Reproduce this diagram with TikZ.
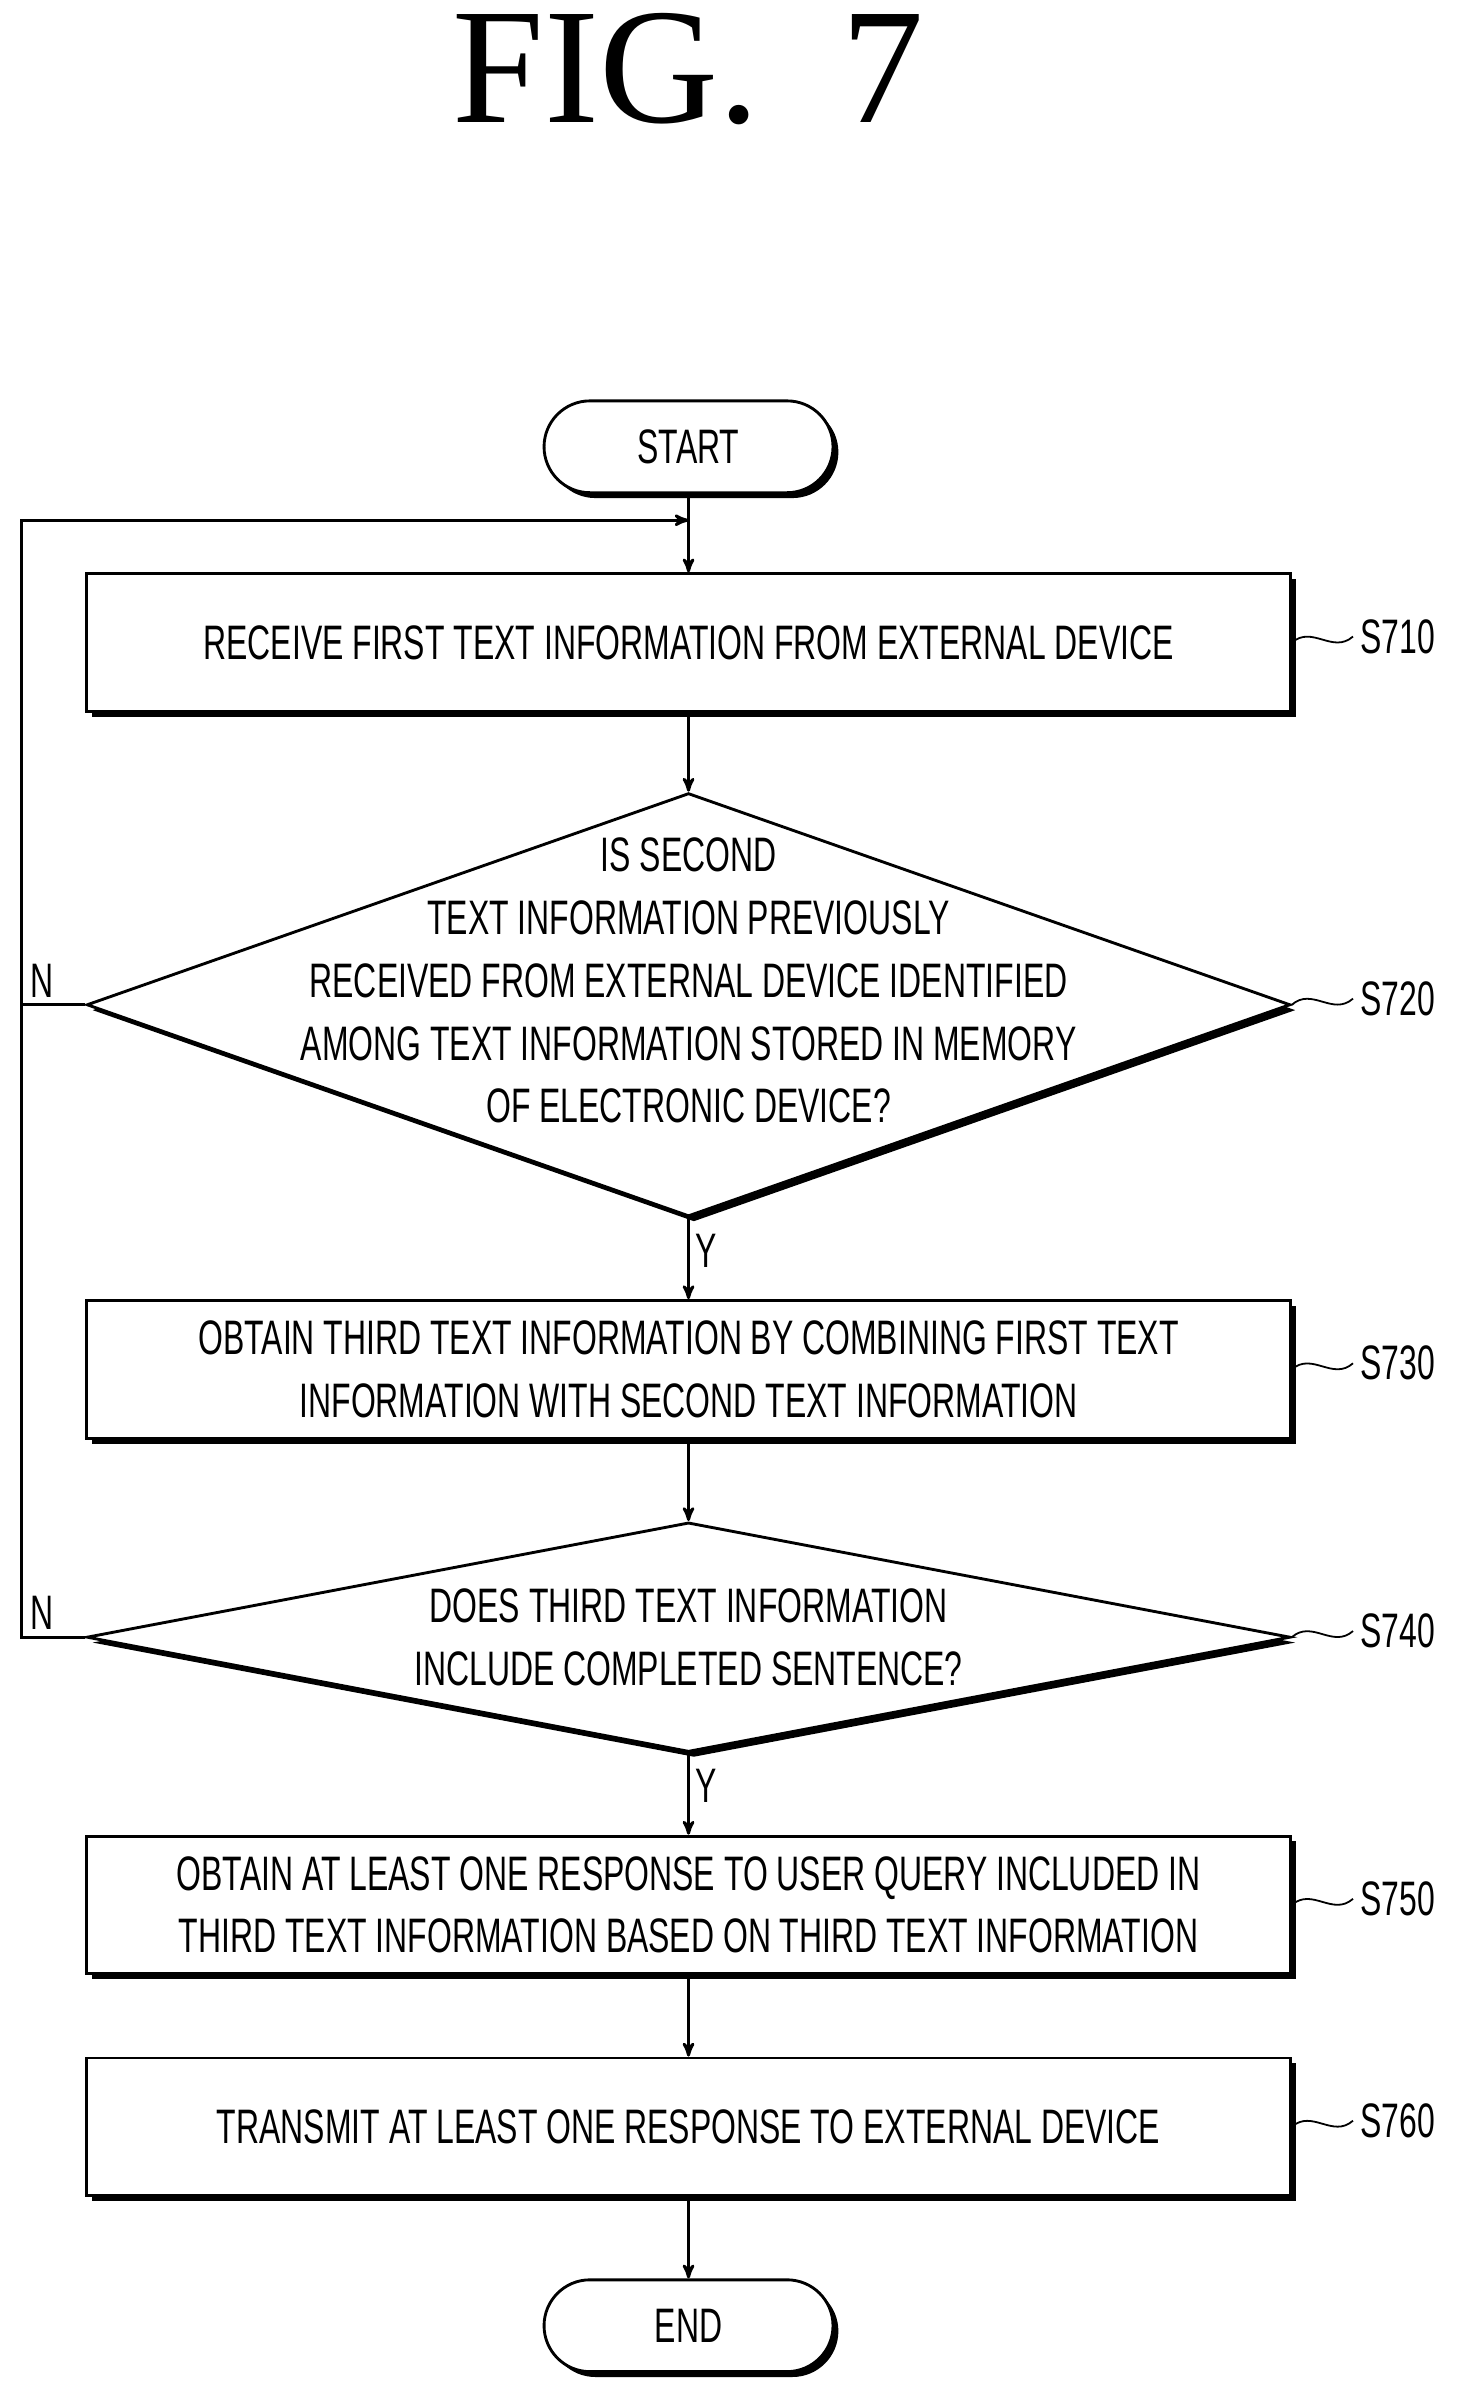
\documentclass[tikz,border=0pt]{standalone}
\usepackage{fontspec}
\setmainfont{Liberation Sans}[FakeStretch=0.66]
\newfontfamily\titlefont{Liberation Serif}
\usetikzlibrary{arrows,positioning,calc,shapes.geometric,shapes.misc,shadows}
\begin{document}
\begin{tikzpicture}[->, >=stealth', line width=1.6pt]
\tikzstyle{every node}=[font=\fontsize{27}{35}\selectfont]
\tikzstyle{shad}=[fill=white,draw=black,drop shadow={shadow xshift=3pt,shadow yshift=-3pt,fill=black,opacity=1}]
\tikzstyle{procbox}=[shad,rectangle,minimum width=23.6cm,minimum height=2.7cm,align=center,inner sep=0]
\tikzstyle{term}=[shad,rounded rectangle,minimum width=5.9cm,minimum height=1.8cm]
\tikzstyle{test}=[shad,diamond,inner sep=0]
\tikzstyle{tag}=[anchor=west]
\useasboundingbox (0,0) rectangle (28.8,-46.9);
\node[font=\titlefont\fontsize{92}{92}\selectfont] (title) at (13.5,-1.35) {FIG.\ \ 7};
\node[term] (start) at (13.5,-8.76) {START};
\node[procbox] (s710) at (13.5,-12.6) {RECEIVE FIRST TEXT INFORMATION FROM EXTERNAL DEVICE};
\node[test,minimum width=23.6cm,minimum height=8.3cm] (s720) at (13.5,-19.7) {};
\node[align=center,inner sep=0] (t720) at (13.5,-19.23) {IS SECOND\\TEXT INFORMATION PREVIOUSLY\\RECEIVED FROM EXTERNAL DEVICE IDENTIFIED\\AMONG TEXT INFORMATION STORED IN MEMORY\\OF ELECTRONIC DEVICE?};
\node[procbox] (s730) at (13.5,-26.85) {OBTAIN THIRD TEXT INFORMATION BY COMBINING FIRST TEXT\\INFORMATION WITH SECOND TEXT INFORMATION};
\node[test,minimum width=23.6cm,minimum height=4.5cm] (s740) at (13.5,-32.1) {};
\node[align=center,inner sep=0] (t740) at (13.5,-32.1) {DOES THIRD TEXT INFORMATION\\INCLUDE COMPLETED SENTENCE?};
\node[procbox] (s750) at (13.5,-37.35) {OBTAIN AT LEAST ONE RESPONSE TO USER QUERY INCLUDED IN\\THIRD TEXT INFORMATION BASED ON THIRD TEXT INFORMATION};
\node[procbox] (s760) at (13.5,-41.7) {TRANSMIT AT LEAST ONE RESPONSE TO EXTERNAL DEVICE};
\node[term] (end) at (13.5,-45.6) {END};
\coordinate (merge) at (13.5,-10.2);
% step tags
\foreach \s in {710,720,730,740,750,760}{
  \node[tag] (l\s) at ($(s\s.east)+(1.2,0.12)$) {S\s};
  \draw[-,line width=1pt] (s\s.east) .. controls +(0.4,0.35) and +(-0.4,-0.35) .. (l\s.west);
}
% flow
\draw (start) -- (s710);
\draw (s710) -- (s720);
\draw (s720) -- node[right,pos=0.4]{Y} (s730);
\draw (s730) -- (s740);
\draw (s740) -- node[right,pos=0.4]{Y} (s750);
\draw (s750) -- (s760);
\draw (s760) -- (end);
\draw (s720.west) -- node[above left,pos=0.5,xshift=4pt]{N} (0.42,-19.7) |- (merge);
\draw[-] (s740.west) -- node[above left,pos=0.5,xshift=4pt]{N} (0.42,-32.1) -- (0.42,-19.7);
\end{tikzpicture}
\end{document}
